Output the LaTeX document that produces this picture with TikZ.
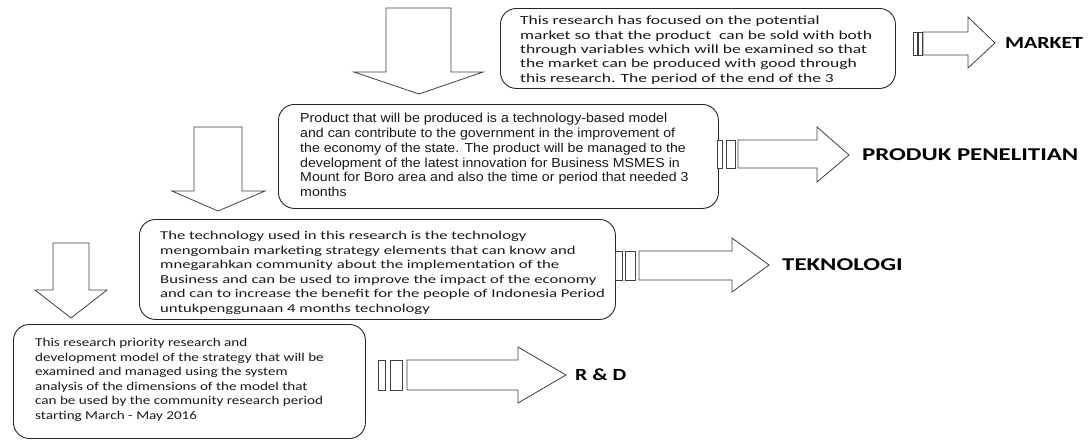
\documentclass[tikz,border=0pt]{standalone}
\usepackage{fontspec}
\setmainfont{Carlito}
\newfontfamily\fa[FakeStretch=1.40]{Carlito}
\newfontfamily\fb[FakeStretch=1.09]{Liberation Sans}
\newfontfamily\fc[FakeStretch=1.39]{Carlito}
\newfontfamily\fd[FakeStretch=1.26]{Carlito}
\newfontfamily\fl[FakeStretch=1.28]{Carlito}
\newfontfamily\flw[FakeStretch=1.38]{Carlito}
\begin{document}
\begin{tikzpicture}[x=1pt,y=-1pt,
  box/.style={draw=black!85, line width=0.9pt, rounded corners=16pt, anchor=north west, inner sep=0pt},
  blk/.style={draw=black!75, line width=0.8pt, fill=white, line join=miter},
  txt/.style={anchor=north west, inner sep=0pt, align=left, text=black!90},
  lbl/.style={anchor=west, inner sep=0pt, font=\fl\bfseries\fontsize{17}{20}\selectfont},
  lblw/.style={anchor=west, inner sep=0pt, font=\flw\bfseries\fontsize{18}{20}\selectfont}]
\useasboundingbox (0,0) rectangle (1088,440);
% boxes
\node[box, minimum width=395pt, minimum height=80pt] (b1) at (500,8) {};
\node[box, minimum width=440pt, minimum height=104pt] (b2) at (278,104) {};
\node[box, minimum width=476pt, minimum height=100pt] (b3) at (139,219) {};
\node[box, minimum width=352pt, minimum height=114pt] (b4) at (13,324) {};
% texts
\node[txt, font=\fa\fontsize{12.5}{14.3}\selectfont] (t1) at (520,16) {This research has focused on the potential\\market so that the product\ \ can be sold with both\\through variables which will be examined so that\\the market can be produced with good through\\this research. The period of the end of the 3};
\node[txt, font=\fb\fontsize{13}{14.8}\selectfont] (t2) at (300,113) {Product that will be produced is a technology-based model\\and can contribute to the government in the improvement of\\the economy of the state. The product will be managed to the\\development of the latest innovation for Business MSMES in\\Mount for Boro area and also the time or period that needed 3\\months};
\node[txt, font=\fc\fontsize{12}{14.5}\selectfont] (t3) at (160,231) {The technology used in this research is the technology\\mengombain marketing strategy elements that can know and\\mnegarahkan community about the implementation of the\\Business and can be used to improve the impact of the economy\\and can to increase the benefit for the people of Indonesia Period\\untukpenggunaan 4 months technology};
\node[txt, font=\fd\fontsize{12}{14.5}\selectfont] (t4) at (35,338) {This research priority research and\\development model of the strategy that will be\\examined and managed using the system\\analysis of the dimensions of the model that\\can be used by the community research period\\starting March - May 2016};
% labels
\node[lbl] (l1) at (1005,43) {MARKET};
\node[lblw] (l2) at (862,155) {PRODUK PENELITIAN};
\node[lblw] (l3) at (782,265) {TEKNOLOGI};
\node[lbl] (l4) at (575,375) {R \& D};
% down arrows
\draw[blk] (386,8) -- (386,72) -- (354,72) -- (419,94) -- (483,72) -- (451,72) -- (451,8) -- cycle;
\draw[blk] (194,127) -- (194,191) -- (172,191) -- (218,211) -- (265,191) -- (242,191) -- (242,127) -- cycle;
\draw[blk] (53,243) -- (53,290) -- (35,290) -- (71,318) -- (107,290) -- (89,290) -- (89,243) -- cycle;
% right arrows
\draw[blk] (913,32) rectangle (917,55);
\draw[blk] (918,32) rectangle (922,55);
\draw[blk] (923,32) -- (968,32) -- (968,17) -- (995,43) -- (968,68) -- (968,55) -- (923,55) -- cycle;
\draw[blk] (717,140) rectangle (722,168);
\draw[blk] (726,140) rectangle (735,168);
\draw[blk] (738,140) -- (817,140) -- (817,127) -- (849,155) -- (817,182) -- (817,168) -- (738,168) -- cycle;
\draw[blk] (615,251) rectangle (622,280);
\draw[blk] (625,251) rectangle (635,280);
\draw[blk] (639,251) -- (732,251) -- (732,238) -- (769,265) -- (732,292) -- (732,280) -- (639,280) -- cycle;
\draw[blk] (378,360) rectangle (385,390);
\draw[blk] (390,360) rectangle (402,390);
\draw[blk] (407,360) -- (518,360) -- (518,347) -- (566,375) -- (518,403) -- (518,390) -- (407,390) -- cycle;
\end{tikzpicture}
\end{document}
